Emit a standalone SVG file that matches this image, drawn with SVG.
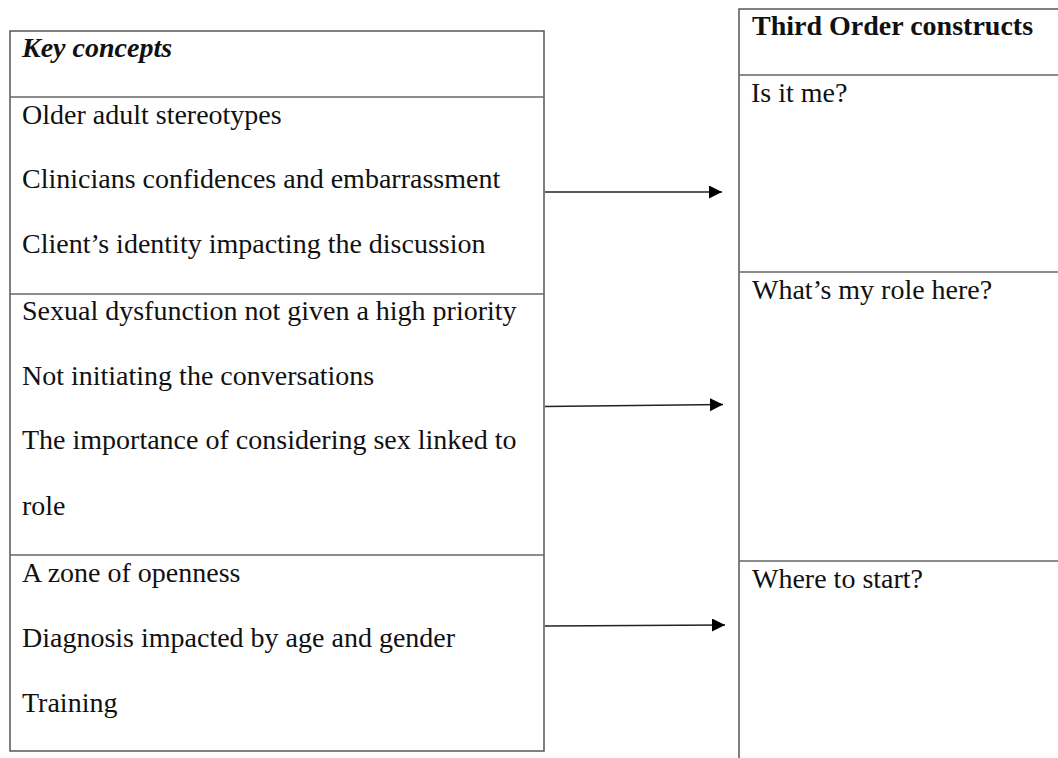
<svg xmlns="http://www.w3.org/2000/svg" width="1058" height="758" viewBox="0 0 1058 758">
<defs>
<marker id="ah" markerWidth="14" markerHeight="14" refX="13" refY="6.5" orient="auto" markerUnits="userSpaceOnUse">
<path d="M0,0 L13,6.5 L0,13 Z" fill="#000"/>
</marker>
</defs>
<style>
.box{fill:#fff;stroke:#555;stroke-width:1.5}
.div{stroke:#666;stroke-width:1.5}
text{font-family:'Liberation Serif','Times New Roman',serif;font-size:28px;fill:#111}
.b{font-weight:bold}
.i{font-style:italic}
.arr{stroke:#222;stroke-width:1.3;fill:none;marker-end:url(#ah)}
</style>
<rect width="1058" height="758" fill="#fff"/>
<g id="key-concepts">
<rect class="box" x="10" y="31" width="534" height="720"/>
<line class="div" x1="10" y1="97" x2="544" y2="97"/>
<line class="div" x1="10" y1="294" x2="544" y2="294"/>
<line class="div" x1="10" y1="555" x2="544" y2="555"/>
<text class="b i" x="22" y="57">Key concepts</text>
<text x="22" y="124">Older adult stereotypes</text>
<text x="22" y="188">Clinicians confidences and embarrassment</text>
<text x="22" y="253">Client’s identity impacting the discussion</text>
<text x="22" y="320">Sexual dysfunction not given a high priority</text>
<text x="22" y="385">Not initiating the conversations</text>
<text x="22" y="449">The importance of considering sex linked to</text>
<text x="22" y="515">role</text>
<text x="22" y="582">A zone of openness</text>
<text x="22" y="647">Diagnosis impacted by age and gender</text>
<text x="22" y="712">Training</text>
</g>
<g id="third-order">
<path class="box" d="M1060,9 L739,9 L739,760"/>
<line class="div" x1="739" y1="75" x2="1058" y2="75"/>
<line class="div" x1="739" y1="272" x2="1058" y2="272"/>
<line class="div" x1="739" y1="561" x2="1058" y2="561"/>
<text class="b" x="752" y="35">Third Order constructs</text>
<text x="751" y="102">Is it me?</text>
<text x="752" y="299">What’s my role here?</text>
<text x="752" y="588">Where to start?</text>
</g>
<g id="connectors">
<line class="arr" x1="545" y1="192" x2="722" y2="192"/>
<line class="arr" x1="545" y1="406.5" x2="723" y2="404.5"/>
<line class="arr" x1="545" y1="626" x2="725" y2="625"/>
</g>
</svg>
